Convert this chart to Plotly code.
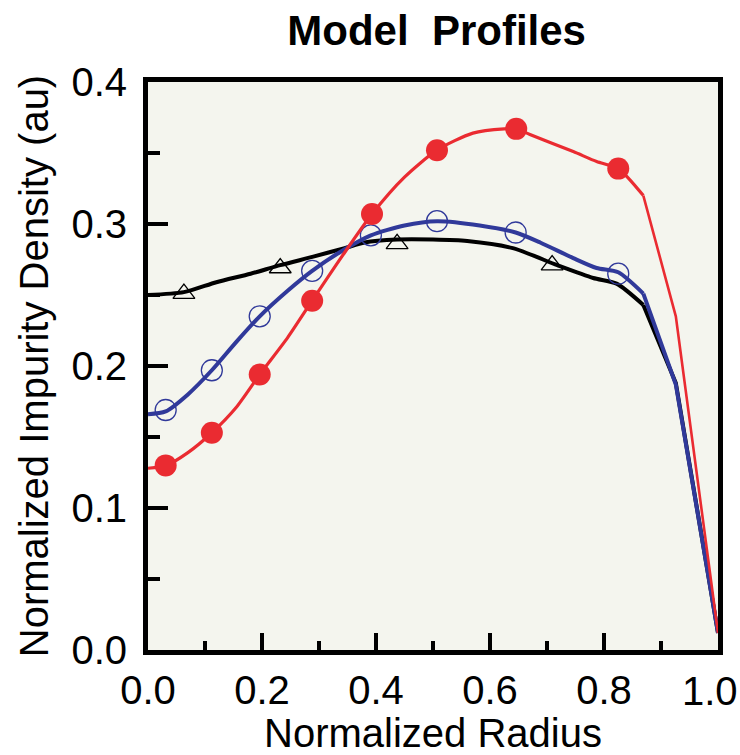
import plotly.graph_objects as go

# Model curves (normalized radius vs. normalized impurity density)
red_x = [0.000, 0.032, 0.070, 0.112, 0.155, 0.196, 0.245, 0.288, 0.340, 0.393, 0.450,
         0.507, 0.570, 0.625, 0.646, 0.670, 0.746, 0.787, 0.825, 0.869, 0.926, 1.000]
red_y = [0.128, 0.130, 0.139, 0.153, 0.171, 0.194, 0.220, 0.246, 0.277, 0.307, 0.333,
         0.352, 0.364, 0.367, 0.367, 0.363, 0.351, 0.344, 0.339, 0.320, 0.235, 0.012]

blue_x = [0.000, 0.031, 0.070, 0.112, 0.155, 0.196, 0.245, 0.288, 0.340, 0.391, 0.450,
          0.507, 0.582, 0.645, 0.688, 0.746, 0.787, 0.825, 0.869, 0.926, 1.000]
blue_y = [0.166, 0.168, 0.180, 0.197, 0.217, 0.235, 0.253, 0.267, 0.281, 0.292, 0.299,
          0.302, 0.299, 0.294, 0.287, 0.276, 0.269, 0.266, 0.251, 0.187, 0.012]

black_x = [0.000, 0.063, 0.120, 0.180, 0.232, 0.290, 0.345, 0.380, 0.437, 0.500, 0.560,
           0.640, 0.718, 0.781, 0.822, 0.869, 0.926, 1.000]
black_y = [0.250, 0.252, 0.259, 0.265, 0.271, 0.277, 0.283, 0.287, 0.289, 0.289, 0.288,
           0.283, 0.271, 0.262, 0.258, 0.243, 0.188, 0.012]

# Marked sample points on each profile
red_mx = [0.031, 0.112, 0.196, 0.288, 0.393, 0.507, 0.646, 0.825]
red_my = [0.130, 0.153, 0.194, 0.246, 0.307, 0.352, 0.367, 0.339]

blue_mx = [0.031, 0.112, 0.196, 0.288, 0.391, 0.507, 0.645, 0.825]
blue_my = [0.169, 0.197, 0.235, 0.267, 0.292, 0.302, 0.294, 0.265]

black_mx = [0.063, 0.232, 0.437, 0.709]
black_my = [0.251, 0.269, 0.286, 0.271]

x_ticks = [0.0, 0.2, 0.4, 0.6, 0.8, 1.0]
y_ticks = [0.0, 0.1, 0.2, 0.3, 0.4]

# Radius where the smooth core profile hands over to the straight edge drop
EDGE_R = 0.869

RED = "#ea2b31"
BLUE = "#30399a"
BLACK = "#000000"
FONT = "Liberation Sans, Arial, Helvetica, sans-serif"

fig = go.Figure()


def add_profile(xs, ys, color, width, tail_width):
    """Smooth spline through the core, straight segments across the edge."""
    k = xs.index(EDGE_R)
    fig.add_trace(go.Scatter(x=xs[:k + 1], y=ys[:k + 1], mode="lines",
                             line=dict(color=color, width=width, shape="spline",
                                       smoothing=0.7),
                             hoverinfo="skip"))
    fig.add_trace(go.Scatter(x=xs[k:], y=ys[k:], mode="lines",
                             line=dict(color=color, width=tail_width, shape="linear"),
                             hoverinfo="skip"))


add_profile(black_x, black_y, BLACK, 4, 4)
fig.add_trace(go.Scatter(x=black_mx, y=black_my, mode="markers",
                         marker=dict(symbol="triangle-up-open", size=19,
                                     color=BLACK, line=dict(width=1.3, color=BLACK))))

add_profile(blue_x, blue_y, BLUE, 4, 4)
fig.add_trace(go.Scatter(x=blue_mx, y=blue_my, mode="markers",
                         marker=dict(symbol="circle-open", size=21,
                                     color=BLUE, line=dict(width=1.3, color=BLUE))))

add_profile(red_x, red_y, RED, 3.2, 2.6)
fig.add_trace(go.Scatter(x=red_mx, y=red_my, mode="markers",
                         marker=dict(symbol="circle", size=22, color=RED,
                                     line=dict(width=0))))

# The last radius label would run past the right page edge when centred on
# its tick, so it is drawn as a right-anchored annotation at that tick.
x_ticktext = [f"{v:.1f}" for v in x_ticks]
last_label = x_ticktext[-1]
x_ticktext[-1] = ""

fig.add_annotation(x=x_ticks[-1], xref="x", y=0, yref="paper",
                   text=last_label, showarrow=False,
                   xanchor="right", yanchor="top", xshift=22, yshift=-17,
                   font=dict(family=FONT, size=40, color="black"))

fig.update_layout(
    width=740, height=755,
    margin=dict(l=148, r=22, t=82, b=105, autoexpand=False),
    paper_bgcolor="white",
    plot_bgcolor="#f4f5ee",
    showlegend=False,
    font=dict(family=FONT, color="black", size=40),
    title=dict(text="<b>Model  Profiles</b>", x=0.59, xanchor="center",
               y=0.96, yanchor="middle", automargin=False,
               font=dict(family=FONT, size=42, color="black")),
)

fig.update_xaxes(
    range=[0, 1], tickvals=x_ticks, ticktext=x_ticktext,
    ticks="inside", ticklen=17, tickwidth=4, tickcolor="black",
    minor=dict(dtick=0.1, ticks="inside", ticklen=9, tickwidth=4, tickcolor="black"),
    showline=True, linewidth=5, linecolor="black", mirror=True,
    showgrid=False, zeroline=False, automargin=True,
    tickfont=dict(size=40), ticklabelstandoff=1, ticklabeloverflow="allow",
    title=dict(text="Normalized Radius", font=dict(size=40), standoff=14),
)
fig.update_yaxes(
    range=[0, 0.4], tickvals=y_ticks, ticktext=[f"{v:.1f}" for v in y_ticks],
    ticks="inside", ticklen=20, tickwidth=4, tickcolor="black",
    minor=dict(dtick=0.05, ticks="inside", ticklen=12, tickwidth=4, tickcolor="black"),
    showline=True, linewidth=5, linecolor="black", mirror=True,
    showgrid=False, zeroline=False, automargin=False,
    tickfont=dict(size=40), ticklabelstandoff=8, ticklabeloverflow="allow",
    title=dict(text="Normalized Impurity Density (au)", font=dict(size=40), standoff=12),
)

fig.write_html("out.html")
